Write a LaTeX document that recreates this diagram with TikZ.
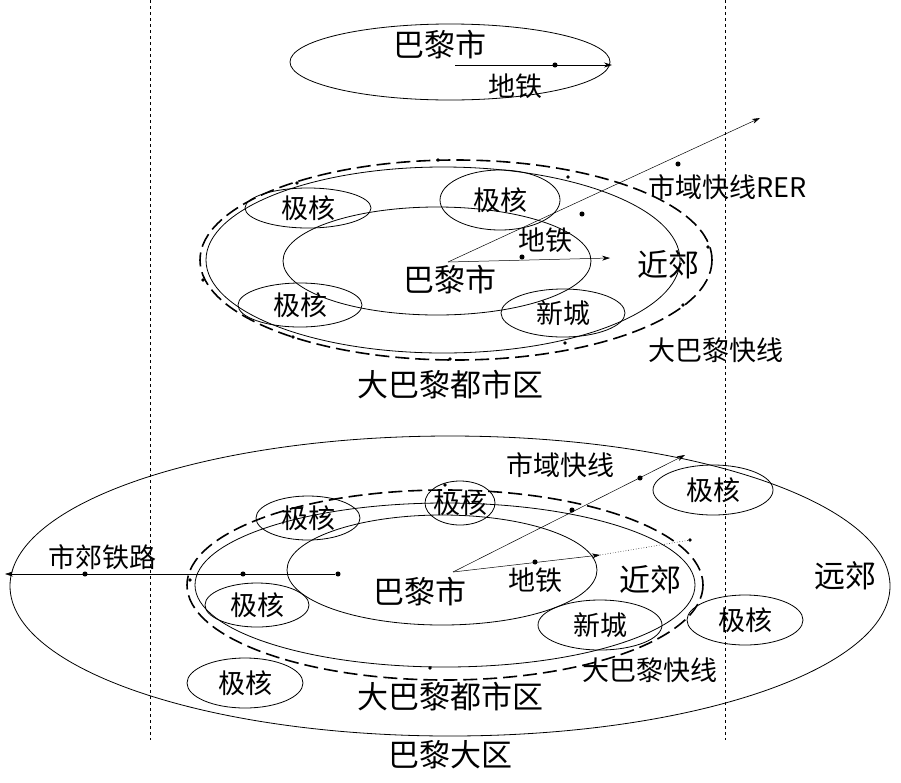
\documentclass[tikz,border=0pt]{standalone}
\usepackage{fontspec}
\setmainfont{Noto Sans CJK SC}
\usepackage{tikz}
\usetikzlibrary{arrows.meta}

\begin{document}
\begin{tikzpicture}[x=1pt,y=-1pt,line width=0.8pt,>={Stealth[length=8pt,width=5pt]}]
    \tikzset{big/.style={font=\fontsize{31}{33}\selectfont},
             small/.style={font=\fontsize{27}{29}\selectfont},
             dot/.style={circle,fill,inner sep=1.8pt},
             ring/.style={dash pattern=on 14pt off 6pt,line width=1.6pt}}
    \useasboundingbox (0,0) rectangle (901,782);
    % --- boundaries ---
    \draw[dashed,line width=0.6pt] (150,0) -- (150,740);
    \draw[dashed,line width=0.6pt] (725,0) -- (725,740);

    % --- Paris ---
    \draw (450,62) ellipse [x radius=160, y radius=38];
    \node[big] (p1) at (440,45) {巴黎市};
    \node[small] (m1) at (515,86) {地铁};
    \coordinate (c1) at (455,65);
    \node[dot] (d1) at (555,65) {};
    \draw[->,line width=0.5pt] (c1) -- (612,65);

    % --- Greater Paris ---
    \draw[ring] (456,260) ellipse [x radius=256, y radius=100];
    \draw (443,260) ellipse [x radius=237, y radius=93];
    \draw (437,261) ellipse [x radius=154, y radius=54];
    \foreach \x/\y/\a/\b/\t in {308/208/63/20/极核,500/200/60/30/极核,300/305/62/22/极核,563/313/62/24/新城}{
        \draw (\x,\y) ellipse [x radius=\a, y radius=\b];
        \node[small] at (\x,\y) {\t};
    }
    \foreach \x/\y in {297/183,438/160,568/177,708/247,683/305,565/343,450/359,293/337,203/280}
        \node[dot,inner sep=1.3pt] at (\x,\y) {};
    \node[big] (p2) at (450,280) {巴黎市};
    \node[small] (m2) at (545,240) {地铁};
    \node[big] (n2) at (668,265) {近郊};
    \node[small,anchor=west] (r2) at (645,187) {市域快线RER};
    \node[small,anchor=west] (e2) at (645,350) {大巴黎快线};
    \node[big] (a2) at (450,385) {大巴黎都市区};
    \coordinate (c2) at (448,262);
    \coordinate (t2) at (760,118);
    \draw[->,line width=0.5pt] (c2) -- (610,258);
    \draw[->,line width=0.5pt] (c2) -- (t2);
    \node[dot] at (522,257) {};
    \node[dot] at (582,214) {};
    \node[dot] at (678,164) {};

    % --- Ile-de-France ---
    \draw (450,586) ellipse [x radius=440, y radius=150];
    \draw[ring] (445,585) ellipse [x radius=258, y radius=95];
    \draw (445,585) ellipse [x radius=250, y radius=82];
    \draw (442,570) ellipse [x radius=155, y radius=55];
    \foreach \x/\y/\a/\b/\t in {460/503/35/22/极核,308/518/52/22/极核,257/605/52/22/极核,713/490/60/25/极核,745/620/58/25/极核,245/683/58/25/极核,600/625/62/25/新城}{
        \draw (\x,\y) ellipse [x radius=\a, y radius=\b];
        \node[small] at (\x,\y) {\t};
    }
    \foreach \x/\y in {190/580,445/485,430/668,690/540}
        \node[dot,inner sep=1.3pt] at (\x,\y) {};
    \node[big] (p3) at (420,592) {巴黎市};
    \node[small] (m3) at (535,580) {地铁};
    \node[big] (n3) at (650,580) {近郊};
    \node[big] (f3) at (845,576) {远郊};
    \node[small] (r3) at (560,465) {市域快线};
    \node[small] (s3) at (102,557) {市郊铁路};
    \node[small] (e3) at (650,670) {大巴黎快线};
    \node[big] (a3) at (450,697) {大巴黎都市区};
    \node[big] (i3) at (450,755) {巴黎大区};
    \coordinate (c3) at (453,572);
    \coordinate (g3) at (600,555);
    \draw[->,line width=0.5pt] (c3) -- (685,455);
    \draw[->,line width=0.5pt] (c3) -- (g3);
    \draw[dotted,line width=0.6pt] (g3) -- (690,540);
    \node[dot] at (535,562) {};
    \node[dot] at (572,510) {};
    \node[dot] at (640,478) {};
    \node[dot] (o3) at (338,574) {};
    \draw[->,line width=0.5pt] (o3) -- (5,574);
    \node[dot] at (243,574) {};
    \node[dot] at (85,574) {};
\end{tikzpicture}
\end{document}
